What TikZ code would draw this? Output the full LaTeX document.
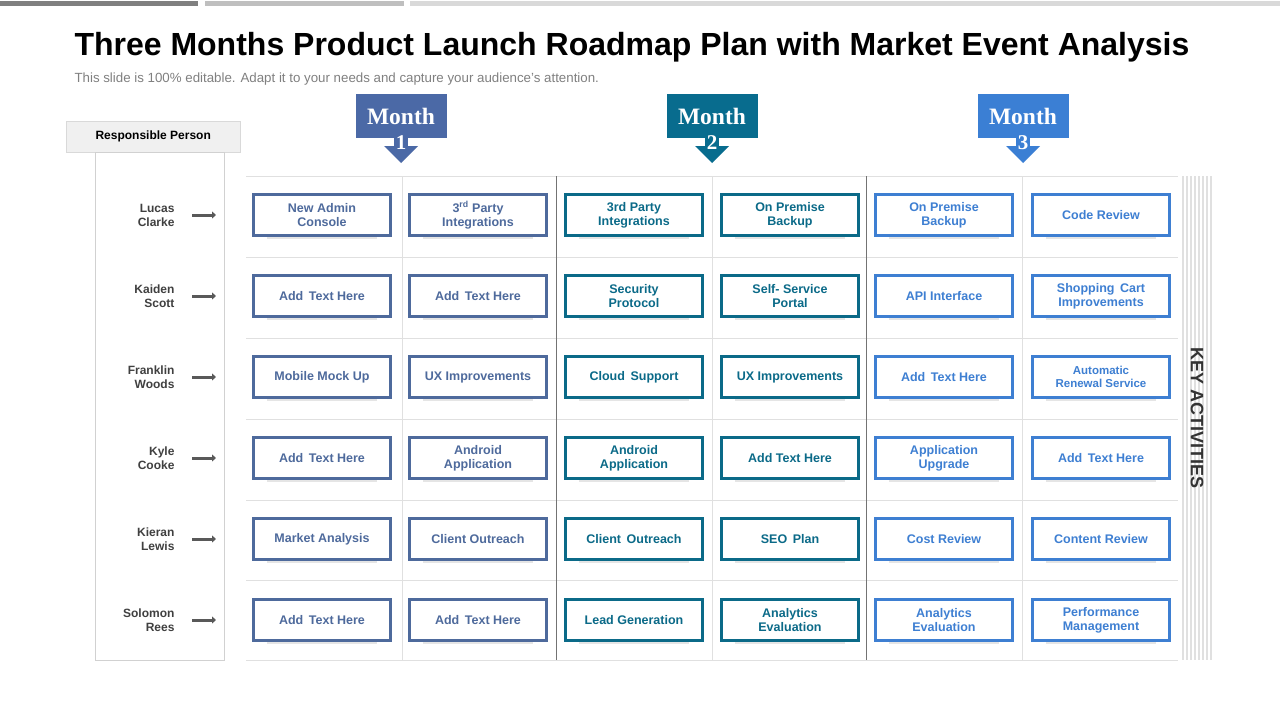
\documentclass[tikz,border=0pt]{standalone}
\usepackage{fontspec}
\setmainfont{Liberation Sans}
\newfontfamily\serifb{Liberation Serif}
\usetikzlibrary{arrows.meta,calc}
\begin{document}
\begin{tikzpicture}[x=1pt,y=-1pt,
  actbox/.style={draw=#1,line width=2.2pt,fill=white,minimum width=137pt,minimum height=41pt,inner sep=1pt,align=center,text=#1,font=\fontsize{12.5}{14}\selectfont\bfseries},
  monthbox/.style={fill=#1,text=white,minimum width=91pt,minimum height=44pt,font=\serifb\fontsize{23.5}{24}\selectfont\bfseries,anchor=north,text depth=0pt},
  namelab/.style={anchor=east,align=right,font=\fontsize{12}{14}\selectfont\bfseries,text=black!75},
  pointer/.style={draw=black!65,line width=3pt,-{Triangle[length=4pt,width=7pt]}},
]
\definecolor{cA}{HTML}{4E6A9C}
\definecolor{cB}{HTML}{0B6A88}
\definecolor{cC}{HTML}{3E7FD2}
\definecolor{mA}{HTML}{4B69A6}
\definecolor{mB}{HTML}{086C8E}
\definecolor{mC}{HTML}{3B7FD4}
\useasboundingbox (0,0) rectangle (1280,720);
\fill[white] (0,0) rectangle (1280,720);
% top bars
\fill[black!50] (0,1) rectangle (198,6);
\fill[black!25] (205,1) rectangle (404,6);
\fill[black!15] (410,1) rectangle (1280,6);
% title
\node[anchor=west,font=\fontsize{32}{34}\selectfont\bfseries] (title) at (71,47) {Three Months Product Launch Roadmap Plan with Market Event Analysis};
\node[anchor=west,font=\fontsize{13.3}{15}\selectfont,text=black!50] (sub) at (71,79) {This slide is 100\% editable. Adapt it to your needs and capture your audience's attention.};
% responsible person
\node[draw=black!15,fill=black!6,minimum width=174pt,minimum height=31pt,anchor=north west,font=\fontsize{12}{14}\selectfont\bfseries] (resp) at (66,121) {Responsible Person};
\draw[black!18] (95,152) rectangle (224,660);
% grid
\foreach \y in {176,257,338,419,500,580,660} \draw[black!12,line width=1pt] (246,\y) -- (1178,\y);
\foreach \x in {402,712,1022} \draw[black!12,line width=1pt] (\x,176) -- (\x,660);
\foreach \x in {556,866} \draw[black!55,line width=1pt] (\x,176) -- (\x,660);
% key activities strip
\foreach \i in {0,...,7} \draw[black!12,line width=1.2pt] (1183+\i*4,176) -- (1183+\i*4,660);
\node[rotate=-90,font=\fontsize{18}{19}\selectfont\bfseries,text=black!80] (key) at (1197,418) {KEY ACTIVITIES};
% months
\foreach \c/\xc/\n in {mA/401/1,mB/712/2,mC/1023/3}{
  \fill[\c] (\xc-7,130) rectangle (\xc+7,146);
  \fill[\c] (\xc-17,146) -- (\xc+17,146) -- (\xc,163) -- cycle;
  \node[monthbox=\c] (m\n) at (\xc,94) {Month};
  \node[text=white,font=\serifb\fontsize{21}{22}\selectfont\bfseries] (mn\n) at (\xc,143) {\n};
}
% names
\foreach \r/\nm in {1/{Lucas\\Clarke},2/{Kaiden\\Scott},3/{Franklin\\Woods},4/{Kyle\\Cooke},5/{Kieran\\Lewis},6/{Solomon\\Rees}}{
  \pgfmathsetmacro\yy{215+(\r-1)*81}
  \node[namelab] (n\r) at (178,\yy) {\nm};
  \coordinate (pa\r) at (192,\yy);
  \coordinate (pb\r) at (216,\yy);
  \draw[pointer] (pa\r) -- (pb\r);
}
% box shadows
\foreach \xc in {322,478,634,790,944,1101}
  \foreach \r in {0,...,5}
    \fill[black!10] (\xc-55,\r*81+237) rectangle (\xc+55,\r*81+239);
% column 1
\node[actbox=cA] (b11) at (322,215) {New Admin\\Console};
\node[actbox=cA] (b12) at (322,296) {Add\, Text Here};
\node[actbox=cA] (b13) at (322,377) {Mobile Mock Up};
\node[actbox=cA] (b14) at (322,458) {Add\, Text Here};
\node[actbox=cA] (b15) at (322,539) {Market Analysis};
\node[actbox=cA] (b16) at (322,620) {Add\, Text Here};
% column 2
\node[actbox=cA] (b21) at (478,215) {3\textsuperscript{rd} Party\\Integrations};
\node[actbox=cA] (b22) at (478,296) {Add\, Text Here};
\node[actbox=cA] (b23) at (478,377) {UX Improvements};
\node[actbox=cA] (b24) at (478,458) {Android\\Application};
\node[actbox=cA] (b25) at (478,539) {Client Outreach};
\node[actbox=cA] (b26) at (478,620) {Add\, Text Here};
% column 3
\node[actbox=cB] (b31) at (634,215) {3rd Party\\Integrations};
\node[actbox=cB] (b32) at (634,296) {Security\\Protocol};
\node[actbox=cB] (b33) at (634,377) {Cloud\, Support};
\node[actbox=cB] (b34) at (634,458) {Android\\Application};
\node[actbox=cB] (b35) at (634,539) {Client\, Outreach};
\node[actbox=cB] (b36) at (634,620) {Lead Generation};
% column 4
\node[actbox=cB] (b41) at (790,215) {On Premise\\Backup};
\node[actbox=cB] (b42) at (790,296) {Self- Service\\Portal};
\node[actbox=cB] (b43) at (790,377) {UX Improvements};
\node[actbox=cB] (b44) at (790,458) {Add Text Here};
\node[actbox=cB] (b45) at (790,539) {SEO\, Plan};
\node[actbox=cB] (b46) at (790,620) {Analytics\\Evaluation};
% column 5
\node[actbox=cC] (b51) at (944,215) {On Premise\\Backup};
\node[actbox=cC] (b52) at (944,296) {API Interface};
\node[actbox=cC] (b53) at (944,377) {Add\, Text Here};
\node[actbox=cC] (b54) at (944,458) {Application\\Upgrade};
\node[actbox=cC] (b55) at (944,539) {Cost Review};
\node[actbox=cC] (b56) at (944,620) {Analytics\\Evaluation};
% column 6
\node[actbox=cC] (b61) at (1101,215) {Code Review};
\node[actbox=cC] (b62) at (1101,296) {Shopping\, Cart\\Improvements};
\node[actbox=cC,font=\fontsize{11.5}{13}\selectfont\bfseries] (b63) at (1101,377) {Automatic\\Renewal Service};
\node[actbox=cC] (b64) at (1101,458) {Add\, Text Here};
\node[actbox=cC] (b65) at (1101,539) {Content Review};
\node[actbox=cC] (b66) at (1101,620) {Performance\\Management};
\end{tikzpicture}
\end{document}
